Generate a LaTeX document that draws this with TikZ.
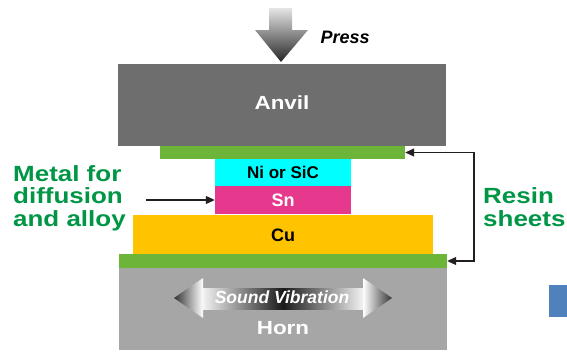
\documentclass[tikz,border=0pt]{standalone}
\usepackage{fontspec}
\setmainfont{Liberation Sans}
\newfontfamily\widefont[FakeStretch=1.18]{Liberation Sans}
\usetikzlibrary{arrows.meta}
\definecolor{anvilgray}{RGB}{110,110,110}
\definecolor{horngray}{RGB}{166,166,166}
\definecolor{sheetgreen}{RGB}{109,181,56}
\definecolor{nicyan}{RGB}{0,255,255}
\definecolor{snpink}{RGB}{230,56,140}
\definecolor{cuyellow}{RGB}{255,195,0}
\definecolor{labgreen}{RGB}{0,150,70}
\definecolor{tipblack}{RGB}{35,31,32}
\definecolor{sideblue}{RGB}{79,129,189}

\begin{document}
\begin{tikzpicture}[x=1pt,y=-1pt,
  layer/.style={rectangle,inner sep=0pt,draw=none,font=\fontsize{18}{20}\selectfont\bfseries},
  whitelab/.style={text=white,inner sep=0pt,font=\widefont\fontsize{19}{20}\selectfont\bfseries},
  greenlab/.style={text=labgreen,align=left,inner sep=0pt,font=\widefont\fontsize{22}{22.5}\selectfont\bfseries},
  pointer/.style={draw=tipblack,line width=1.1pt,-{Triangle[length=9pt,width=8pt]}}]
\useasboundingbox (0,0) rectangle (567,356);
% press arrow
\shade[top color=gray!20,bottom color=black!85]
  (269,8) -- (292,8) -- (292,30) -- (308,30) -- (281,62) -- (255,30) -- (269,30) -- cycle;
\node[font=\fontsize{18}{20}\selectfont\bfseries\itshape,anchor=west] (press) at (317,37){Press};
% stack
\node[layer,fill=anvilgray,minimum width=328pt,minimum height=82pt] (anvil) at (282,105){};
\node[whitelab] (anvillab) at (282,103){Anvil};
\node[layer,fill=sheetgreen,minimum width=245pt,minimum height=13pt] (topsheet) at (282.5,152.5){};
\node[layer,fill=nicyan,minimum width=136pt,minimum height=27pt,font=\fontsize{17}{20}\selectfont\bfseries] (nisic) at (283,172.5){Ni or SiC};
\node[layer,fill=snpink,minimum width=136pt,minimum height=28pt,text=white] (sn) at (283,200){Sn};
\node[layer,fill=cuyellow,minimum width=300pt,minimum height=40pt] (cu) at (283,235){Cu};
\node[layer,fill=sheetgreen,minimum width=328pt,minimum height=14pt] (botsheet) at (283,261){};
\node[layer,fill=horngray,minimum width=328pt,minimum height=82pt] (horn) at (283,309){};
\node[whitelab] (hornlab) at (283,328){Horn};
% sound vibration
\shade[left color=black!80,right color=white] (174,298) -- (203,278) -- (203,318) -- cycle;
\shade[left color=white,right color=black!80] (363,278) -- (392,298) -- (363,318) -- cycle;
\shade[left color=gray!10,right color=gray!10,middle color=black!90] (203,288) rectangle (363,309);
\node[text=white,font=\fontsize{17.5}{20}\selectfont\bfseries\itshape] (vib) at (282,297){Sound Vibration};
% labels and pointers
\node[greenlab,anchor=west] (metal) at (13,198){Metal for\\diffusion\\and alloy};
\coordinate (metaltail) at (146,200);
\draw[pointer] (metaltail) -- (sn.west);
\node[greenlab,anchor=west] (resin) at (483,207){Resin\\sheets};
\coordinate (resinbar) at (474,207);
\draw[pointer] (resinbar) |- (topsheet.east);
\draw[pointer] (resinbar) |- (botsheet.east);
\fill[sideblue] (549,285) rectangle (567,317);
\end{tikzpicture}
\end{document}
